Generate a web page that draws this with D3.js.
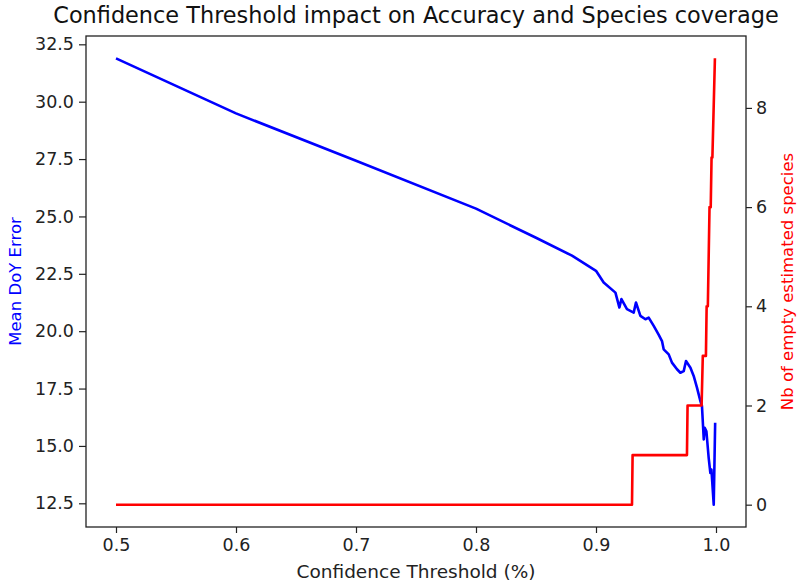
<!DOCTYPE html>
<html>
<head>
<meta charset="utf-8">
<script src="https://cdn.jsdelivr.net/npm/d3@7"></script>
<style>
  html, body { margin: 0; padding: 0; background: #fff; overflow: hidden; }
  svg { display: block; font-family: "DejaVu Sans", sans-serif; }
</style>
</head>
<body>
<svg width="800" height="587"></svg>
<script>
// confidence thresholds and mean DoY error (blue)
const errThreshold = [0.5, 0.6, 0.7, 0.8, 0.85, 0.88, 0.9, 0.9064, 0.9162, 0.9195, 0.9212, 0.9258,
  0.9314, 0.9333, 0.937, 0.9412, 0.9439, 0.9481, 0.9523, 0.955, 0.9564, 0.9606, 0.9633, 0.9675,
  0.9703, 0.9731, 0.975, 0.9787, 0.9814, 0.9842, 0.987, 0.9883, 0.9898, 0.9906, 0.992, 0.9939,
  0.9953, 0.9962, 0.9981, 0.9993];
const meanError = [31.89, 29.49, 27.43, 25.34, 24.07, 23.29, 22.63, 22.12, 21.68, 21.03, 21.40, 20.96,
  20.81, 21.25, 20.67, 20.52, 20.59, 20.23, 19.84, 19.57, 19.21, 18.99, 18.63, 18.34,
  18.19, 18.26, 18.70, 18.41, 18.05, 17.53, 16.95, 16.74, 15.28, 15.79, 15.64, 14.48,
  13.82, 13.97, 12.44, 16.01];

// confidence thresholds and number of empty species (red)
const emptyThreshold = [0.5, 0.930, 0.9305, 0.9758, 0.9763, 0.9880, 0.9890, 0.9916, 0.9922, 0.9932,
  0.9946, 0.9956, 0.9963, 0.9970, 0.9991];
const emptySpecies = [0, 0, 1, 1, 2, 2, 3, 3, 4, 4, 6, 6, 7, 7, 9];

const xTicks = [0.5, 0.6, 0.7, 0.8, 0.9, 1.0];
const yLeftTicks = [12.5, 15, 17.5, 20, 22.5, 25, 27.5, 30, 32.5];
const yRightTicks = [0, 2, 4, 6, 8];

const svg = d3.select('svg');
const width = +svg.attr('width');
const height = +svg.attr('height');
const margin = { top: 36, right: 54, bottom: 60, left: 86 };
const innerWidth = width - margin.left - margin.right;
const innerHeight = height - margin.top - margin.bottom;

// matplotlib style 5% padding
const pad = (lo, hi) => [lo - (hi - lo) * 0.05, hi + (hi - lo) * 0.05];

const xScale = d3.scaleLinear()
  .domain(pad(0.5, 1.0))
  .range([0, innerWidth]);

const yLeft = d3.scaleLinear()
  .domain(pad(d3.min(meanError), d3.max(meanError)))
  .range([innerHeight, 0]);

const yRight = d3.scaleLinear()
  .domain(pad(0, d3.max(emptySpecies)))
  .range([innerHeight, 0]);

const g = svg.append('g')
  .attr('transform', `translate(${margin.left}, ${margin.top})`);

const errLine = d3.line()
  .x((d, i) => xScale(errThreshold[i]))
  .y(d => yLeft(d));

const emptyLine = d3.line()
  .x((d, i) => xScale(emptyThreshold[i]))
  .y(d => yRight(d));

g.append('path')
  .attr('d', errLine(meanError))
  .attr('stroke', 'blue')
  .attr('stroke-width', 2.6)
  .attr('stroke-linejoin', 'round')
  .style('fill', 'none');

g.append('path')
  .attr('d', emptyLine(emptySpecies))
  .attr('stroke', 'red')
  .attr('stroke-width', 2.6)
  .attr('stroke-linejoin', 'round')
  .style('fill', 'none');

// axes
const styleAxis = sel => {
  sel.attr('font-size', 17.5).attr('font-family', '"DejaVu Sans", sans-serif');
  sel.select('.domain').remove();
  sel.selectAll('.tick line').attr('stroke', '#222').attr('stroke-width', 1.2);
  sel.selectAll('.tick text').attr('fill', '#222');
};

g.append('g')
  .attr('transform', `translate(0, ${innerHeight})`)
  .call(d3.axisBottom(xScale).tickValues(xTicks).tickFormat(d3.format('.1f'))
    .tickSize(6).tickPadding(6).tickSizeOuter(0))
  .call(styleAxis);

g.append('g')
  .call(d3.axisLeft(yLeft).tickValues(yLeftTicks).tickFormat(d3.format('.1f'))
    .tickSize(7).tickPadding(5).tickSizeOuter(0))
  .call(styleAxis);

g.append('g')
  .attr('transform', `translate(${innerWidth}, 0)`)
  .call(d3.axisRight(yRight).tickValues(yRightTicks)
    .tickSize(6).tickPadding(4).tickSizeOuter(0))
  .call(styleAxis);

// frame
g.append('rect')
  .attr('width', innerWidth)
  .attr('height', innerHeight)
  .attr('fill', 'none')
  .attr('stroke', '#222')
  .attr('stroke-width', 1.3);

// labels
svg.append('text')
  .attr('x', margin.left + innerWidth / 2)
  .attr('y', 23)
  .attr('text-anchor', 'middle')
  .attr('font-size', 22.4)
  .attr('fill', '#111')
  .text('Confidence Threshold impact on Accuracy and Species coverage');

svg.append('text')
  .attr('x', margin.left + innerWidth / 2)
  .attr('y', 578)
  .attr('text-anchor', 'middle')
  .attr('font-size', 18.5)
  .attr('fill', '#222')
  .text('Confidence Threshold (%)');

svg.append('text')
  .attr('transform', `translate(21, ${margin.top + innerHeight / 2}) rotate(-90)`)
  .attr('text-anchor', 'middle')
  .attr('font-size', 16.5)
  .attr('fill', 'blue')
  .text('Mean DoY Error');

svg.append('text')
  .attr('transform', `translate(793, ${margin.top + innerHeight / 2}) rotate(-90)`)
  .attr('text-anchor', 'middle')
  .attr('font-size', 16.5)
  .attr('fill', 'red')
  .text('Nb of empty estimated species');
</script>
</body>
</html>
